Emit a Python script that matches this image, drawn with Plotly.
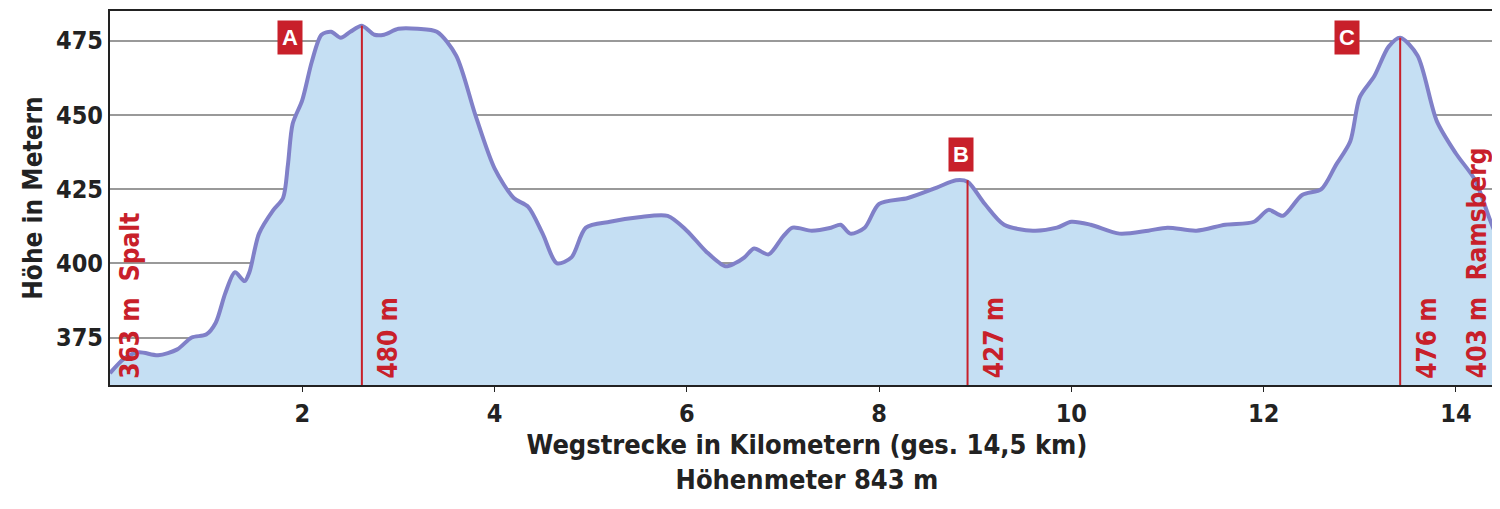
import plotly.graph_objects as go

km = [0.0,0.15,0.3,0.5,0.7,0.85,1.0,1.1,1.2,1.3,1.4,1.45,1.55,1.7,1.8,1.85,1.9,2.0,2.1,2.2,2.3,2.4,2.5,2.62,2.75,2.85,3.0,3.2,3.4,3.6,3.8,4.0,4.2,4.35,4.5,4.65,4.8,4.95,5.2,5.5,5.8,6.0,6.2,6.4,6.5,6.6,6.7,6.85,7.0,7.1,7.3,7.5,7.6,7.7,7.85,8.0,8.3,8.6,8.8,8.92,9.1,9.3,9.6,9.85,10.0,10.2,10.5,10.8,11.0,11.3,11.6,11.9,12.05,12.2,12.4,12.6,12.75,12.9,13.0,13.15,13.3,13.42,13.6,13.8,14.0,14.2,14.35,14.5]
hoehe = [363,368,370,369,371,375,376,380,390,397,394,397,410,418,422,433,447,455,468,477,478,476,478,480,477,477,479,479,478,470,450,432,422,419,410,400,402,412,414,415.5,416,411,404,399,400,402,405,403,409,412,411,412,413,410,412,420,422,425.5,428,427.5,420,413,411,412,414,413,410,411,412,411,413,414,418,416,423,425,433,441,456,463,473,476,470,448,437,428,415,403]

peak_km = [2.62, 8.92, 13.42]
peak_h = [480, 428, 476]
peak_lbl = ["480 m", "427 m", "476 m"]
box_lbl = ["A", "B", "C"]
box_km = [1.87, 8.85, 12.87]
box_h = [476, 436.5, 476]
end_km = [0.2, 14.22]
end_lbl = ["363 m  Spalt", "403 m  Ramsberg"]

FONT = "DejaVu Sans Condensed"
RED = "#c8202a"
YMIN, YMAX = 359, 485

fig = go.Figure()
fig.add_trace(go.Scatter(x=km, y=hoehe, mode="lines", line=dict(color="#8080c8", width=4, shape="spline", smoothing=0.8),
                         fill="tozeroy", fillcolor="#c5dff3", hoverinfo="skip"))
for x, h in zip(peak_km, peak_h):
    fig.add_shape(type="line", x0=x, x1=x, y0=YMIN, y1=h, line=dict(color=RED, width=2))
for x, t in zip(peak_km, peak_lbl):
    fig.add_annotation(x=x + 0.1, y=YMIN + 1.5, text=t, textangle=-90, showarrow=False, xanchor="left", yanchor="bottom",
                       font=dict(family=FONT, size=26, color=RED, weight="bold"))
for x, t in zip(end_km, end_lbl):
    fig.add_annotation(x=x, y=YMIN + 1.5, text=t, textangle=-90, showarrow=False, xanchor="center", yanchor="bottom",
                       font=dict(family=FONT, size=26, color=RED, weight="bold"))
for x, h, t in zip(box_km, box_h, box_lbl):
    fig.add_annotation(x=x, y=h, text=t, showarrow=False, bgcolor=RED, borderpad=4,
                       font=dict(family="Liberation Sans", size=22, color="white", weight="bold"))

fig.update_layout(
    width=1500, height=509, margin=dict(l=102, r=4, t=3, b=132, autoexpand=False),
    plot_bgcolor="white", paper_bgcolor="white", showlegend=False,
    font=dict(family=FONT, color="#222", weight="bold"),
    xaxis=dict(range=[0, 14.5], tickvals=[2, 4, 6, 8, 10, 12, 14], ticks="outside", ticklen=5, tickcolor="#222",
               showgrid=False, zeroline=False, showline=True, linecolor="#222", linewidth=2, mirror=True, automargin=False,
               tickfont=dict(size=25, family=FONT, weight="bold"),
               title=dict(text="Wegstrecke in Kilometern (ges. 14,5 km)<br>Höhenmeter 843 m", standoff=8,
                          font=dict(size=27, family=FONT, weight="bold"))),
    yaxis=dict(range=[YMIN, YMAX], tickvals=[375, 400, 425, 450, 475], showgrid=True, gridcolor="#999", gridwidth=2,
               zeroline=False, showline=True, linecolor="#222", linewidth=2, mirror=True, ticks="", automargin=False,
               tickfont=dict(size=25, family=FONT, weight="bold"),
               title=dict(text="Höhe in Metern", standoff=6, font=dict(size=26, family=FONT, weight="bold"))),
)
fig.write_html("out.html")
